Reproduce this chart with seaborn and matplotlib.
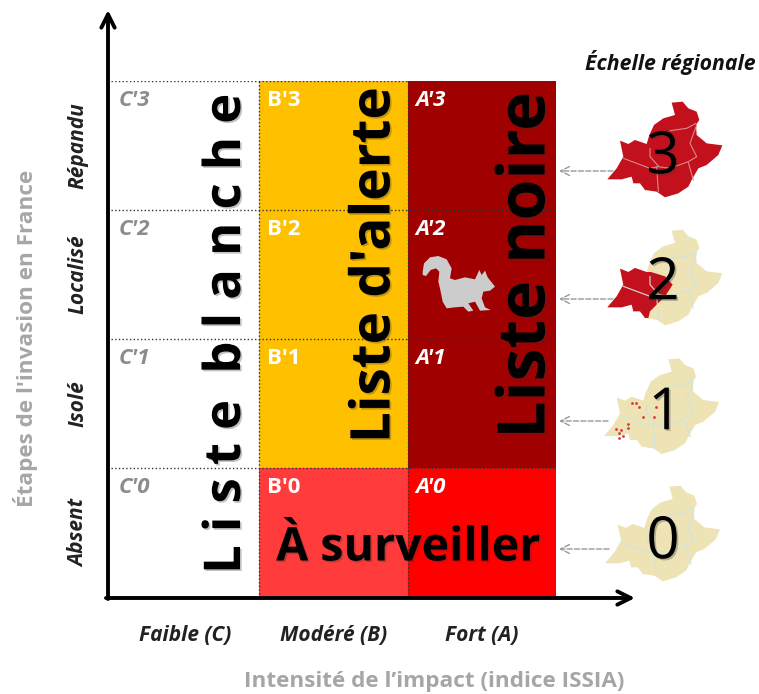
import numpy as np
import seaborn as sns
import matplotlib.pyplot as plt
import matplotlib.patheffects as pe
from matplotlib.colors import ListedColormap
from matplotlib.patches import Polygon

# Data
impact_labels = ['Faible (C)', 'Modéré (B)', 'Fort (A)']
stage_labels = ['Répandu', 'Localisé', 'Isolé', 'Absent']
cell_codes = [[0, 1, 2],
              [0, 1, 2],
              [0, 1, 2],
              [0, 3, 4]]
cell_names = [["C'3", "B'3", "A'3"],
              ["C'2", "B'2", "A'2"],
              ["C'1", "B'1", "A'1"],
              ["C'0", "B'0", "A'0"]]
cell_colors = ['#FFFFFF', '#FFC000', '#A00000', '#FF3B3B', '#FF0000']
scale_numbers = ['3', '2', '1', '0']

# Map and squirrel outlines, in zoomed pixels (3x)
region_outline = [(365, 188), (398, 185), (415, 205), (440, 215), (448, 240), (438, 255),
                  (440, 285), (470, 310), (517, 316), (505, 345), (470, 375), (445, 385),
                  (425, 420), (415, 440), (385, 460), (345, 472), (320, 455), (285, 450),
                  (270, 430), (250, 430), (245, 410), (215, 418), (172, 418), (200, 385),
                  (220, 350), (210, 302), (235, 312), (255, 300), (290, 312), (298, 285),
                  (312, 255), (340, 235), (375, 225)]
region_west = [(172, 418), (200, 385), (220, 350), (210, 302), (235, 312), (255, 300),
               (290, 312), (303, 312), (345, 325), (368, 350), (345, 385), (300, 430),
               (295, 450), (285, 450), (270, 430), (250, 430), (245, 410), (215, 418)]
region_borders = [[(220, 355), (300, 385), (325, 380), (360, 385), (415, 365), (440, 350),
                   (420, 310), (440, 255)],
                  [(320, 380), (325, 455)],
                  [(415, 368), (430, 420)],
                  [(300, 325), (300, 350), (325, 378)],
                  [(360, 272), (410, 265), (438, 250)]]
isolated_points = [(247, 190), (259, 190), (266, 201), (317, 202), (279, 232), (311, 232),
                   (233, 251), (233, 264), (199, 268), (213, 270), (207, 279), (218, 288),
                   (208, 293)]
squirrel = [(68, 215), (72, 190), (90, 172), (115, 168), (140, 178), (155, 205), (150, 235),
            (165, 240), (195, 232), (225, 238), (238, 210), (245, 225), (255, 212), (263, 232),
            (285, 260), (270, 272), (250, 275), (245, 295), (255, 322), (272, 330), (240, 332),
            (225, 305), (205, 310), (220, 332), (205, 335), (190, 320), (165, 322), (140, 325),
            (128, 305), (120, 265), (115, 245), (118, 215), (108, 205), (92, 210), (78, 228),
            (68, 225)]

sns.set_style('white')
plt.rcParams['font.family'] = ['Open Sans', 'DejaVu Sans']

W, H = 759, 694
fig = plt.figure(figsize=(W / 100, H / 100), dpi=100)

# Heatmap grid
ax = fig.add_axes([111 / W, 1 - 597 / H, 445 / W, 516 / H])
sns.heatmap(cell_codes, ax=ax, cmap=ListedColormap(cell_colors), vmin=-0.5, vmax=4.5,
            cbar=False, xticklabels=impact_labels, yticklabels=stage_labels)
ax.tick_params(length=0)
ax.tick_params(axis='x', pad=20)
ax.tick_params(axis='y', pad=16)
plt.setp(ax.get_xticklabels(), fontsize=15, fontweight='bold', fontstyle='italic', color='#222222')
plt.setp(ax.get_yticklabels(), fontsize=15, fontweight='bold', fontstyle='italic', color='#222222',
         rotation=90, va='center')
ax.hlines(range(4), 0, 3, color='#333333', lw=1, linestyles=':')
ax.vlines(range(1, 4), 0, 4, color='#333333', lw=1, linestyles=':')

for r, row in enumerate(cell_names):
    for c, name in enumerate(row):
        ax.text(c + 0.05, r + 0.15, name, fontsize=16, fontweight='bold',
                fontstyle='normal' if c == 1 else 'italic',
                color='#8C8C8C' if c == 0 else 'white', ha='left', va='center')

# Overlay in pixel coordinates
ov = fig.add_axes([0, 0, 1, 1], facecolor='none')
ov.set_xlim(0, W)
ov.set_ylim(H, 0)
ov.axis('off')

shadow = [pe.SimplePatchShadow(offset=(1.2, -1.2), alpha=0.3, shadow_rgbFace='#333333'), pe.Normal()]

# Axis arrows
for start, end in [((108, 599), (108, 10)), ((106, 598), (635, 598))]:
    ov.annotate('', xy=end, xytext=start,
                arrowprops=dict(arrowstyle='->', lw=2.8, color='black', mutation_scale=24,
                                shrinkA=0, shrinkB=0))

# Axis titles
ov.text(26, 338, "Étapes de l'invasion en France", rotation=90, fontsize=16.2, fontweight='bold',
        color='#A6A6A6', ha='center', va='center')
ov.text(434, 682, "Intensité de l’impact (indice ISSIA)", fontsize=16.2, fontweight='bold',
        color='#A6A6A6', ha='center', va='center')
ov.text(670, 62, 'Échelle régionale', fontsize=15.3, fontweight='bold', fontstyle='italic',
        color='#111111', ha='center', va='center')

# List names
ov.text(227, 334, 'L i s t e  b l a n c h e', rotation=90, fontsize=36.5, fontweight='bold',
        color='black', ha='center', va='center', path_effects=shadow)
ov.text(375, 265, "Liste d'alerte", rotation=90, fontsize=39.5, fontweight='bold',
        color='black', ha='center', va='center', path_effects=shadow)
ov.text(527, 265, 'Liste noire', rotation=90, fontsize=47.5, fontweight='bold',
        color='black', ha='center', va='center', path_effects=shadow)
ov.text(408, 548, 'À surveiller', fontsize=33.5, fontweight='bold',
        color='black', ha='center', va='center', path_effects=shadow)

# Squirrel
ov.add_patch(Polygon(np.array(squirrel) / 3 + [400, 200], closed=True, fc='#CCCCCC', ec='none'))


# Regional maps
def to_px(points, dx, dy):
    return np.array(points) / 3 + [550 + dx, 40 + dy]


map_offsets = [(0, 0), (0, 128), (-3.3, 256.7), (-2.3, 384)]
number_pos = [(663, 158), (663, 284), (665, 414), (663, 543)]
arrow_rows = [(613, 171), (613, 299), (608, 421), (609, 549)]
for i, (dx, dy) in enumerate(map_offsets):
    base = '#C2111C' if i == 0 else '#EDE3B4'
    line = '#D98A8A' if i == 0 else '#CFE3E3'
    ov.add_patch(Polygon(to_px(region_outline, dx, dy), closed=True, fc=base, ec='none'))
    if i == 1:
        ov.add_patch(Polygon(to_px(region_west, dx, dy), closed=True, fc='#C2111C', ec='none'))
    for border in region_borders:
        b = to_px(border, dx, dy)
        ov.plot(b[:, 0], b[:, 1], color=line, lw=0.8)
    if i == 2:
        p = np.array(isolated_points) / 3 + [550, 340]
        ov.scatter(p[:, 0], p[:, 1], s=4, color='#D9363E', linewidths=0)
    x, y = number_pos[i]
    ov.text(x, y, scale_numbers[i], fontsize=42, ha='center', va='center', color='black',
            path_effects=shadow)
    x0, y0 = arrow_rows[i]
    ov.annotate('', xy=(559, y0), xytext=(x0, y0),
                arrowprops=dict(arrowstyle='->', lw=1, color='#999999', linestyle='--',
                                mutation_scale=16, shrinkA=0, shrinkB=0))

fig.savefig('out.png', dpi=100)
